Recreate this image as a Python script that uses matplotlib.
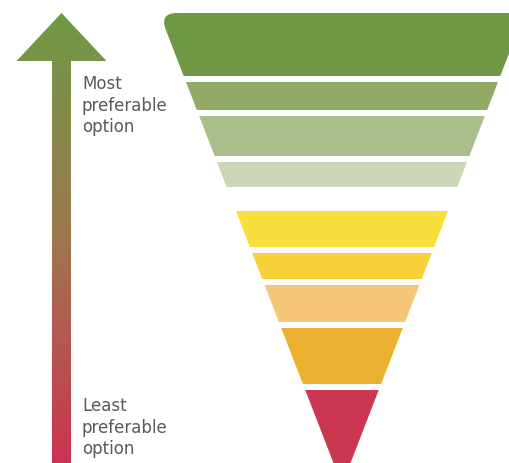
import numpy as np
import matplotlib.pyplot as plt
from matplotlib.path import Path
from matplotlib.patches import PathPatch, Polygon
from matplotlib.colors import LinearSegmentedColormap

# funnel bands, top to bottom (height in px, None = empty slot)
band_heights = [63, 28, 40, 25, 12, 36, 26, 37, 56, 80]
band_colors = ['#6e9843', '#91ab66', '#abbd8c', '#cbd6b6', None,
               '#f8df3c', '#f7d03a', '#f4c676', '#ebb030', '#cb3651']

top_lines = ["Most", "preferable", "option"]
bottom_lines = ["Least", "preferable", "option"]
arrow_colors = ['#6e9a45', '#9e774f', '#cc3352']

W, H = 509, 464
fig = plt.figure(figsize=(W / 100, H / 100), dpi=100)
ax = fig.add_axes([0, 0, 1, 1])
ax.set_xlim(0, W)
ax.set_ylim(H, 0)
ax.axis('off')

# funnel geometry
cx, top, apex = 342, 14, 486
half_top = 182.7
gap = 6


def half(y):
    return half_top * (apex - y) / (apex - top)


def band_path(y0, y1, r=0):
    tl = np.array([cx - half(y0), y0])
    tr = np.array([cx + half(y0), y0])
    bl = np.array([cx - half(y1), y1])
    br = np.array([cx + half(y1), y1])
    if r == 0:
        verts = [bl, tl, tr, br, bl]
        codes = [Path.MOVETO] + [Path.LINETO] * 3 + [Path.CLOSEPOLY]
        return Path(verts, codes)
    dl = (bl - tl) / np.linalg.norm(bl - tl)
    dr = (br - tr) / np.linalg.norm(br - tr)
    verts = [bl, tl + r * dl, tl, tl + [r, 0], tr - [r, 0], tr, tr + r * dr, br, bl]
    codes = [Path.MOVETO, Path.LINETO, Path.CURVE3, Path.CURVE3,
             Path.LINETO, Path.CURVE3, Path.CURVE3, Path.LINETO, Path.CLOSEPOLY]
    return Path(verts, codes)


y0 = top
for i, (h, c) in enumerate(zip(band_heights, band_colors)):
    y1 = y0 + h
    if c is not None:
        p = band_path(y0, y1, r=18 if i == 0 else 0)
        ax.add_patch(PathPatch(p, facecolor=c, edgecolor='none'))
    y0 = y1 + gap

# gradient arrow
tip_y, head_y = 14, 62
ax_x, head_w, shaft_w = 61.5, 45, 9.5
arrow_pts = [(ax_x, tip_y), (ax_x + head_w, head_y), (ax_x + shaft_w, head_y),
             (ax_x + shaft_w, H), (ax_x - shaft_w, H), (ax_x - shaft_w, head_y),
             (ax_x - head_w, head_y)]
arrow = Polygon(arrow_pts, closed=True, facecolor='none', edgecolor='none')
ax.add_patch(arrow)
cmap = LinearSegmentedColormap.from_list('pref', arrow_colors)
grad = np.linspace(0, 1, 256).reshape(-1, 1)
im = ax.imshow(grad, cmap=cmap, aspect='auto',
               extent=[ax_x - head_w, ax_x + head_w, H, tip_y], origin='upper')
im.set_clip_path(arrow)
ax.set_xlim(0, W)
ax.set_ylim(H, 0)

# labels
for lines, base in [(top_lines, 89), (bottom_lines, 411)]:
    for k, s in enumerate(lines):
        ax.text(82, base + k * 21.7, s, fontsize=12, color='#5a5a5a',
                family='DejaVu Sans', va='baseline', ha='left')

fig.savefig('out.png', dpi=100)
